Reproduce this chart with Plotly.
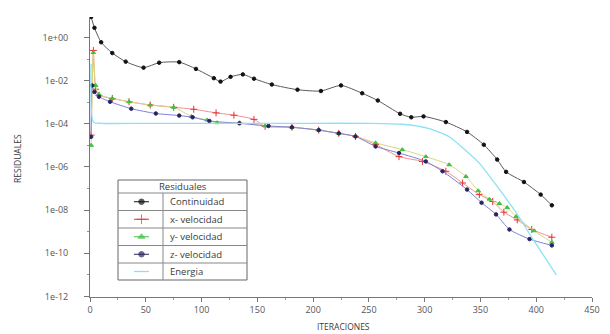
import plotly.graph_objects as go

# ---------------- data ----------------
it_cont = [1, 4, 10, 20, 32, 48, 62, 80, 95, 111, 117, 126, 137, 147, 163, 186, 207, 225, 244, 258,
           278, 288, 299, 319, 338, 353, 365, 373, 389, 404, 414]
continuidad = [8.9, 2.8, 0.60, 0.19, 0.076, 0.040, 0.068, 0.072, 0.035, 0.013, 0.0090, 0.0150, 0.0195,
               0.0123, 0.0066, 0.0038, 0.0033, 0.0060, 0.0026, 0.0012, 2.9e-4, 2.0e-4, 2.2e-4, 1.2e-4,
               4.2e-5, 1.07e-5, 2.2e-6, 5.9e-7, 2.0e-7, 5.2e-8, 1.66e-8]

it_x = [1, 3, 5, 8, 20, 35, 54, 75, 93, 113, 129, 147, 157, 181, 205, 223, 238, 256, 277, 298, 319,
        334, 349, 361, 371, 383, 396, 414]
x_vel = [3e-5, 0.25, 4e-3, 2.1e-3, 1.5e-3, 1.05e-3, 7.4e-4, 5.8e-4, 4.7e-4, 3.2e-4, 2.5e-4, 1.6e-4,
         7.6e-5, 6.9e-5, 5.1e-5, 3.6e-5, 2.6e-5, 1.1e-5, 3.0e-6, 1.8e-6, 6.3e-7, 1.8e-7, 5.2e-8,
         2.5e-8, 8.0e-9, 3.5e-9, 1.26e-9, 5.5e-10]

it_y = [1, 3, 5, 8, 20, 35, 54, 75, 91, 105, 114, 134, 157, 181, 205, 223, 238, 256, 280, 301, 322,
        337, 348, 358, 367, 374, 382, 398, 414]
y_vel = [1e-5, 0.2, 6e-3, 2.3e-3, 1.5e-3, 1.05e-3, 7.4e-4, 5.8e-4, 2.2e-4, 1.5e-4, 1.12e-4, 1.12e-4,
         7.9e-5, 6.9e-5, 5.1e-5, 3.6e-5, 2.6e-5, 1.3e-5, 6.3e-6, 3.0e-6, 1.26e-6, 3.6e-7, 7.9e-8,
         3.2e-8, 2.0e-8, 1.3e-8, 5.0e-9, 1.1e-9, 3.2e-10]

it_z = [1, 2, 4, 8, 18, 37, 59, 80, 92, 107, 134, 160, 181, 205, 223, 238, 256, 277, 301, 316, 338,
        351, 364, 376, 394, 414]
z_vel = [2.5e-5, 6e-3, 3e-3, 1.8e-3, 1.05e-3, 5e-4, 3e-4, 2.4e-4, 2e-4, 1.35e-4, 1.05e-4, 7.9e-5,
         6.9e-5, 5.1e-5, 3.6e-5, 2.6e-5, 8.9e-6, 4.4e-6, 1.8e-6, 6.3e-7, 8.9e-8, 2.2e-8, 6.3e-9,
         1.26e-9, 4.5e-10, 2.3e-10]

it_e = [1, 3, 10, 50, 100, 150, 200, 250, 280, 304, 322, 335, 349, 367, 382, 397, 418]
energia = [6e-2, 1.2e-4, 1.05e-4, 1.05e-4, 1.05e-4, 1.05e-4, 1.05e-4, 1.05e-4, 9.5e-5, 6e-5, 2.5e-5,
           7e-6, 1.5e-6, 9e-8, 7.6e-9, 4.5e-10, 1.0e-11]

x_ticks = [0, 50, 100, 150, 200, 250, 300, 350, 400, 450]
y_tickvals = [1e0, 1e-2, 1e-4, 1e-6, 1e-8, 1e-10, 1e-12]
y_ticktext = ["1e+00", "1e-02", "1e-04", "1e-06", "1e-08", "1e-10", "1e-12"]

legend_title = "Residuales"
legend_labels = ["Continuidad", "x- velocidad", "y- velocidad", "z- velocidad", "Energia"]
x_title = "ITERACIONES"
y_title = "RESIDUALES"

# ---------------- styles ----------------
FONT = "Open Sans"
series = [
    dict(x=it_cont, y=continuidad, lc="#5a5a5a", mc="#111111", sym="circle", ms=3.5),
    dict(x=it_x, y=x_vel, lc="#f49090", mc="#e83030", sym="cross-thin", ms=5),
    dict(x=it_y, y=y_vel, lc="#d8d880", mc="#40c040", sym="triangle-up", ms=4),
    dict(x=it_z, y=z_vel, lc="#8080d8", mc="#25255e", sym="circle", ms=3.5),
    dict(x=it_e, y=energia, lc="#8ae2f4", mc=None, sym=None, ms=0),
]

fig = go.Figure()
for s in series:
    if s["mc"] is None:
        fig.add_trace(go.Scatter(x=s["x"], y=s["y"], mode="lines",
                                 line=dict(color=s["lc"], width=1.3, shape="spline", smoothing=0.6),
                                 showlegend=False))
    else:
        fig.add_trace(go.Scatter(x=s["x"], y=s["y"], mode="lines+markers",
                                 line=dict(color=s["lc"], width=1, shape="spline", smoothing=0.6),
                                 marker=dict(color=s["mc"], symbol=s["sym"], size=s["ms"],
                                             line=dict(color=s["mc"], width=1)),
                                 showlegend=False))

# page offset (browser body margin) and plot area in reference pixels
OFF = 8
W, H = 610 - OFF, 334 - OFF
L, R, T, B = 90, 592, 17, 297

def px(xp):
    return (xp - L) / (R - L)

def py(yp):
    return (B - yp) / (B - T)

# table-like legend
box_l, box_r, box_t, box_b = 118, 247, 180, 280
div_x = 163
row_lines = [193, 210.5, 228, 245.5, 263]
shapes = [dict(type="rect", xref="paper", yref="paper", x0=px(box_l), x1=px(box_r),
               y0=py(box_b), y1=py(box_t), line=dict(color="#666666", width=1),
               fillcolor="rgba(0,0,0,0)", layer="above")]
for yl in row_lines:
    shapes.append(dict(type="line", xref="paper", yref="paper", x0=px(box_l), x1=px(box_r),
                       y0=py(yl), y1=py(yl), line=dict(color="#888888", width=1), layer="above"))
shapes.append(dict(type="line", xref="paper", yref="paper", x0=px(div_x), x1=px(div_x),
                   y0=py(box_b), y1=py(row_lines[0]), line=dict(color="#888888", width=1), layer="above"))

LEG_FONT = dict(family=FONT, size=9.5, color="#3a3a3a")
annotations = [dict(text=legend_title, xref="paper", yref="paper", x=px((box_l + box_r) / 2),
                    y=py((box_t + row_lines[0]) / 2), showarrow=False,
                    font=LEG_FONT, xanchor="center", yanchor="middle")]
row_edges = row_lines + [box_b]
centers = [(row_edges[i] + row_edges[i + 1]) / 2 for i in range(5)]
mk_x, mk_y, mk_c, mk_s, mk_z = [], [], [], [], []
for i, (lab, s) in enumerate(zip(legend_labels, series)):
    cy = centers[i]
    annotations.append(dict(text=lab, xref="paper", yref="paper", x=px(div_x + 5), y=py(cy),
                            showarrow=False, xanchor="left", yanchor="middle", font=LEG_FONT))
    shapes.append(dict(type="line", xref="paper", yref="paper", x0=px(134), x1=px(149),
                       y0=py(cy), y1=py(cy),
                       line=dict(color=s["lc"] if s["mc"] is None else s["mc"],
                                 width=1.3 if s["mc"] is None else 1),
                       layer="above"))
    if s["mc"] is not None:
        mk_x.append(141.5); mk_y.append(cy); mk_c.append(s["mc"]); mk_s.append(s["sym"])
        mk_z.append(s["ms"] + 2)

# legend markers on a pixel-space overlay axis
fig.add_trace(go.Scatter(x=mk_x, y=mk_y, mode="markers", xaxis="x2", yaxis="y2",
                         marker=dict(color=mk_c, symbol=mk_s, size=mk_z, line=dict(color=mk_c, width=1)),
                         showlegend=False, hoverinfo="skip"))

TITLE_FONT = dict(family=FONT, size=8.5, color="#3a3a3a")
annotations.append(dict(text=x_title, xref="paper", yref="paper", x=px(343), y=py(326),
                        showarrow=False, xanchor="center", yanchor="middle", font=TITLE_FONT))
annotations.append(dict(text=y_title, xref="paper", yref="paper", x=px(17), y=py(159),
                        showarrow=False, xanchor="center", yanchor="middle", textangle=-90,
                        font=TITLE_FONT))

TICK_FONT = dict(family=FONT, size=9, color="#555555")
fig.update_layout(
    width=W, height=H,
    margin=dict(l=L - OFF, r=610 - R, t=T - OFF, b=334 - B, autoexpand=False),
    paper_bgcolor="white", plot_bgcolor="white",
    font=dict(family=FONT, size=9, color="#444444"),
    showlegend=False,
    shapes=shapes, annotations=annotations,
    xaxis=dict(range=[0, 450], tickvals=x_ticks, showgrid=False, zeroline=False, automargin=False,
               showline=True, linecolor="#777777", linewidth=1, ticks="outside", ticklen=4,
               tickcolor="#777777", tickfont=TICK_FONT,
               minor=dict(tickvals=[25, 75, 125, 175, 225, 275, 325, 375, 425], ticklen=2,
                          ticks="outside", tickcolor="#999999")),
    yaxis=dict(type="log", range=[-12.03, 0.95], tickvals=y_tickvals, ticktext=y_ticktext,
               showgrid=False, zeroline=False, showline=True, linecolor="#777777", linewidth=1,
               automargin=False,
               ticks="outside", ticklen=5, tickcolor="#777777", ticklabelstandoff=14,
               tickfont=TICK_FONT,
               minor=dict(tickvals=[1e-1, 1e-3, 1e-5, 1e-7, 1e-9, 1e-11], ticklen=2,
                          ticks="outside", tickcolor="#999999")),
    xaxis2=dict(range=[L, R], overlaying="x", visible=False, fixedrange=True),
    yaxis2=dict(range=[B, T], overlaying="y", visible=False, fixedrange=True),
)

fig.write_html("out.html")
